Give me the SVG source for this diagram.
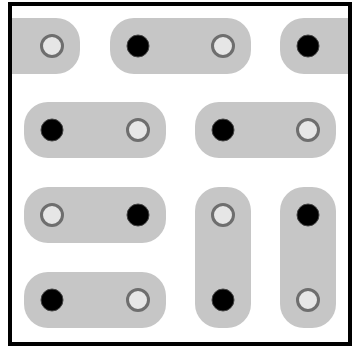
<svg xmlns="http://www.w3.org/2000/svg" width="352" height="347" viewBox="0 0 352 347">
<style>
.dom{fill:#c6c6c6}
.b{fill:#000;stroke:#444;stroke-width:1}
.w{fill:#e6e6e6;stroke:#6e6e6e;stroke-width:3}
</style>
<defs>
<clipPath id="inner"><rect x="12" y="6" width="336" height="336"/></clipPath>
</defs>
<rect x="0" y="0" width="352" height="347" fill="#fff"/>
<g clip-path="url(#inner)">
<g id="d1"><rect class="dom" x="-60" y="18" width="140" height="56" rx="24"/><circle class="w" cx="52" cy="46" r="10.5"/></g>
<g id="d2"><rect class="dom" x="110" y="18" width="141" height="56" rx="24"/><circle class="b" cx="138" cy="46" r="11"/><circle class="w" cx="223" cy="46" r="10.5"/></g>
<g id="d3"><rect class="dom" x="280" y="18" width="141" height="56" rx="24"/><circle class="b" cx="308" cy="46" r="11"/></g>
<g id="d4"><rect class="dom" x="24" y="102" width="142" height="56" rx="24"/><circle class="b" cx="52" cy="130" r="11"/><circle class="w" cx="138" cy="130" r="10.5"/></g>
<g id="d5"><rect class="dom" x="195" y="102" width="141" height="56" rx="24"/><circle class="b" cx="223" cy="130" r="11"/><circle class="w" cx="308" cy="130" r="10.5"/></g>
<g id="d6"><rect class="dom" x="24" y="187" width="142" height="56" rx="24"/><circle class="w" cx="52" cy="215" r="10.5"/><circle class="b" cx="138" cy="215" r="11"/></g>
<g id="d7"><rect class="dom" x="195" y="187" width="56" height="141" rx="24"/><circle class="w" cx="223" cy="215" r="10.5"/><circle class="b" cx="223" cy="300" r="11"/></g>
<g id="d8"><rect class="dom" x="280" y="187" width="56" height="141" rx="24"/><circle class="b" cx="308" cy="215" r="11"/><circle class="w" cx="308" cy="300" r="10.5"/></g>
<g id="d9"><rect class="dom" x="24" y="272" width="142" height="56" rx="24"/><circle class="b" cx="52" cy="300" r="11"/><circle class="w" cx="138" cy="300" r="10.5"/></g>
</g>
<rect id="frame" x="10" y="4" width="340" height="340" fill="none" stroke="#000" stroke-width="4"/>
</svg>
